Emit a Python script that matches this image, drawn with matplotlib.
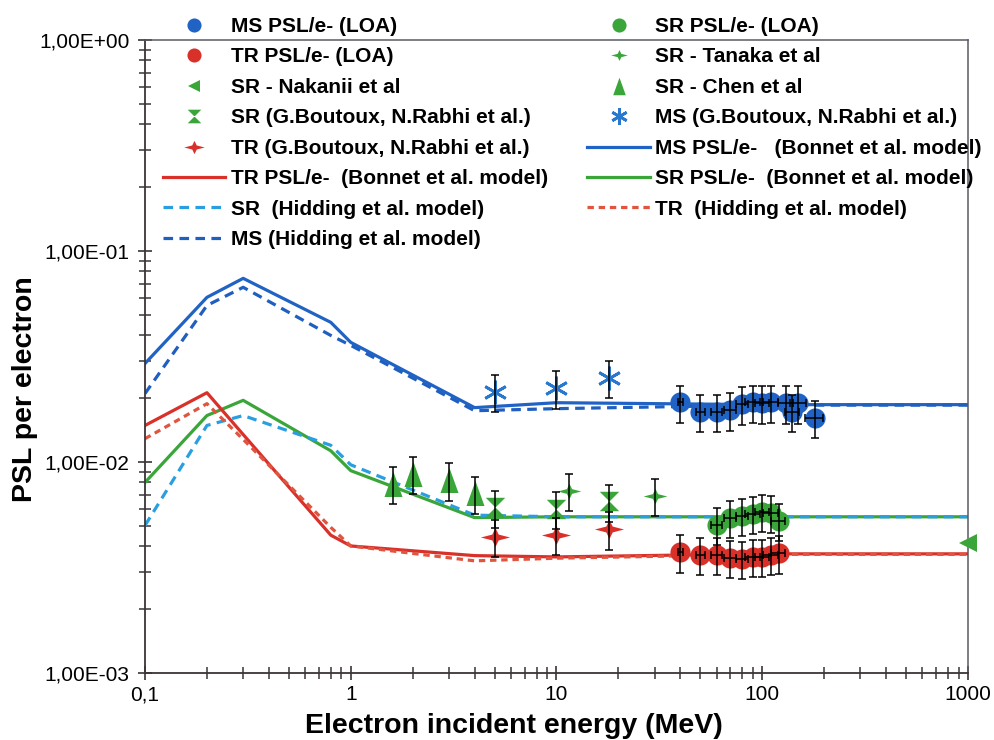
import numpy as np
import matplotlib
matplotlib.use('Agg')
import matplotlib.pyplot as plt
from matplotlib.path import Path
from matplotlib.ticker import LogLocator, FixedLocator, FuncFormatter, NullFormatter

plt.rcParams['font.family'] = ['Liberation Sans', 'DejaVu Sans']

# ---------------- data ----------------
E_model = [0.1, 0.2, 0.3, 0.8, 1, 4, 10, 100, 1000]
ms_bonnet = [0.0293, 0.0603, 0.0742, 0.0459, 0.0369, 0.0181, 0.0191, 0.0187, 0.0187]
ms_hidding = [0.0211, 0.0552, 0.0673, 0.0398, 0.0357, 0.0175, 0.0179, 0.0186, 0.0186]
sr_bonnet = [0.0080, 0.0166, 0.0196, 0.0113, 0.0091, 0.00545, 0.0055, 0.0055, 0.0055]
sr_hidding = [0.0050, 0.0149, 0.0166, 0.0120, 0.0097, 0.0056, 0.0055, 0.0055, 0.0055]
tr_bonnet = [0.0149, 0.0213, 0.0135, 0.0045, 0.0040, 0.0036, 0.00355, 0.00367, 0.00367]
tr_hidding = [0.0129, 0.0189, 0.0128, 0.0049, 0.0040, 0.0034, 0.0035, 0.00365, 0.00365]

E_ms_loa = [40, 50, 60, 70, 80, 90, 100, 110, 130, 140, 150, 180]
ms_loa = [0.0192, 0.0173, 0.0173, 0.0176, 0.0188, 0.0192, 0.0190, 0.0192, 0.0190, 0.0173, 0.0190, 0.0162]
ms_loa_xerr = [0.03, 0.05, 0.06, 0.07, 0.07, 0.08, 0.08, 0.08, 0.08, 0.08, 0.09, 0.10]

E_tr_loa = [40, 50, 60, 70, 80, 90, 100, 110, 120]
tr_loa = [0.00374, 0.00363, 0.00363, 0.00351, 0.00347, 0.00355, 0.00355, 0.00363, 0.00370]
tr_loa_xerr = [0.03, 0.05, 0.06, 0.07, 0.07, 0.08, 0.08, 0.08, 0.08]

E_sr_loa = [60, 70, 80, 90, 100, 110, 120]
sr_loa = [0.00503, 0.00543, 0.00555, 0.00567, 0.00580, 0.00574, 0.00525]
sr_loa_xerr = [0.06, 0.07, 0.07, 0.08, 0.08, 0.08, 0.08]

E_nakanii = [1000]
sr_nakanii = [0.00413]

E_tanaka = [11.5, 30]
sr_tanaka = [0.0073, 0.0069]

E_chen = [1.6, 2, 3, 4]
sr_chen = [0.0079, 0.0088, 0.0082, 0.0071]

E_boutoux = [5, 10, 18]
sr_boutoux = [0.0061, 0.0060, 0.0065]
tr_boutoux = [0.00441, 0.00451, 0.00481]
ms_boutoux = [0.0215, 0.0224, 0.0250]

yerr_frac = 0.20

x_ticks = [0.1, 1, 10, 100, 1000]
x_ticklabels = ['0,1', '1', '10', '100', '1000']
y_ticks = [1e-3, 1e-2, 1e-1, 1e0]
y_ticklabels = ['1,00E-03', '1,00E-02', '1,00E-01', '1,00E+00']

# ---------------- styles ----------------
C_MS = '#2163c4'
C_MS_D = '#1f5fbf'
C_MS_STAR = '#2878d0'
C_SR_H = '#2a9fe0'
C_SR = '#3aa63a'
C_TR = '#d9302a'
C_TR_H = '#e0553f'

hourglass = Path([(-1, 1), (1, 1), (-1, -1), (1, -1), (-1, 1)],
                 [Path.MOVETO, Path.LINETO, Path.LINETO, Path.LINETO, Path.CLOSEPOLY])
star4 = Path([(1, 0), (0.22, 0.2), (0, 0.65), (-0.22, 0.2), (-1, 0), (-0.22, -0.2),
              (0, -0.65), (0.22, -0.2), (1, 0)],
             [Path.MOVETO] + [Path.LINETO] * 7 + [Path.CLOSEPOLY])
tri_up = Path([(0, 1), (-0.72, -1), (0.72, -1), (0, 1)],
              [Path.MOVETO, Path.LINETO, Path.LINETO, Path.CLOSEPOLY])

fig = plt.figure(figsize=(9.95, 7.4), dpi=100)
ax = fig.add_axes([145 / 995, 1 - 673 / 740, (968 - 145) / 995, (673 - 40) / 740])

lw = 2.3


def err(x, y, xfrac=None, zo=5):
    y = np.asarray(y)
    x = np.asarray(x, dtype=float)
    xe = None if xfrac is None else x * np.asarray(xfrac)
    ax.errorbar(x, y, yerr=y * yerr_frac, xerr=xe, fmt='none', ecolor='black',
                elinewidth=1.1, capsize=3.2, capthick=1.1, zorder=zo)


# model lines
h_ms_b, = ax.plot(E_model, ms_bonnet, '-', color=C_MS, lw=lw, zorder=2,
                  label='MS PSL/e-   (Bonnet et al. model)')
h_ms_h, = ax.plot(E_model, ms_hidding, '--', color=C_MS_D, lw=lw, dashes=(3, 2), zorder=2,
                  label='MS (Hidding et al. model)')
h_sr_b, = ax.plot(E_model, sr_bonnet, '-', color=C_SR, lw=lw, zorder=2,
                  label='SR PSL/e-  (Bonnet et al. model)')
h_sr_h, = ax.plot(E_model, sr_hidding, '--', color=C_SR_H, lw=lw, dashes=(3, 2), zorder=2,
                  label='SR  (Hidding et al. model)')
h_tr_b, = ax.plot(E_model, tr_bonnet, '-', color=C_TR, lw=lw, zorder=2,
                  label='TR PSL/e-  (Bonnet et al. model)')
h_tr_h, = ax.plot(E_model, tr_hidding, '--', color=C_TR_H, lw=lw, dashes=(2, 1.5), zorder=2,
                  label='TR  (Hidding et al. model)')

# data points
h_ms_loa, = ax.plot(E_ms_loa, ms_loa, 'o', color=C_MS, ms=14.5, mew=0, ls='none', zorder=3,
                    label='MS PSL/e- (LOA)')
err(E_ms_loa, ms_loa, ms_loa_xerr)
h_tr_loa, = ax.plot(E_tr_loa, tr_loa, 'o', color=C_TR, ms=14.5, mew=0, ls='none', zorder=3,
                    label='TR PSL/e- (LOA)')
err(E_tr_loa, tr_loa, tr_loa_xerr)
h_sr_loa, = ax.plot(E_sr_loa, sr_loa, 'o', color=C_SR, ms=14.5, mew=0, ls='none', zorder=3,
                    label='SR PSL/e- (LOA)')
err(E_sr_loa, sr_loa, sr_loa_xerr)

h_nak, = ax.plot(E_nakanii, sr_nakanii, '<', color=C_SR, ms=13, mew=0, ls='none', zorder=3,
                 clip_on=False, label='SR - Nakanii et al')
h_tan, = ax.plot(E_tanaka, sr_tanaka, marker=star4, color=C_SR, ms=17, mew=0, ls='none',
                 zorder=3, label='SR - Tanaka et al')
err(E_tanaka, sr_tanaka)
h_chen, = ax.plot(E_chen, sr_chen, marker=tri_up, color=C_SR, ms=18, mew=0, ls='none',
                  zorder=3, label='SR - Chen et al')
err(E_chen, sr_chen)
h_srb, = ax.plot(E_boutoux, sr_boutoux, marker=hourglass, color=C_SR, ms=14, mew=0, ls='none',
                 zorder=3, label='SR (G.Boutoux, N.Rabhi et al.)')
err(E_boutoux, sr_boutoux)
h_trb, = ax.plot(E_boutoux, tr_boutoux, marker=star4, color=C_TR, ms=21, mew=0, ls='none',
                 zorder=3, label='TR (G.Boutoux, N.Rabhi et al.)')
err(E_boutoux, tr_boutoux)
h_msb, = ax.plot(E_boutoux, ms_boutoux, marker=(6, 2, 0), color=C_MS_STAR, ms=17, mew=2.0,
                 ls='none', zorder=3, label='MS (G.Boutoux, N.Rabhi et al.)')
err(E_boutoux, ms_boutoux)

# axes
ax.set_xscale('log')
ax.set_yscale('log')
ax.set_xlim(0.1, 1000)
ax.set_ylim(1e-3, 1)
ax.xaxis.set_major_locator(FixedLocator(x_ticks))
ax.xaxis.set_major_formatter(FuncFormatter(lambda v, p: x_ticklabels[x_ticks.index(v)] if v in x_ticks else ''))
ax.yaxis.set_major_locator(FixedLocator(y_ticks))
ax.yaxis.set_major_formatter(FuncFormatter(lambda v, p: y_ticklabels[y_ticks.index(v)] if v in y_ticks else ''))
ax.xaxis.set_minor_locator(LogLocator(base=10, subs=np.arange(2, 10)))
ax.yaxis.set_minor_locator(LogLocator(base=10, subs=np.arange(2, 10)))
ax.xaxis.set_minor_formatter(NullFormatter())
ax.yaxis.set_minor_formatter(NullFormatter())

tick_col = '#3b3436'
ax.tick_params(which='major', axis='both', direction='inout', length=10, width=1.2,
               color=tick_col, labelsize=15, pad=6, top=False, right=False)
ax.tick_params(which='major', axis='x', pad=4)
ax.tick_params(which='minor', axis='both', direction='inout', length=8, width=1.1,
               color=tick_col, top=False, right=False)
for s in ['left', 'bottom']:
    ax.spines[s].set_color(tick_col)
    ax.spines[s].set_linewidth(1.3)
for s in ['top', 'right']:
    ax.spines[s].set_color('#5a5a66')
    ax.spines[s].set_linewidth(1.1)

ax.set_xlabel('Electron incident energy (MeV)', fontsize=20.5, fontweight='bold')
ax.set_ylabel('PSL per electron', fontsize=20.5, fontweight='bold')
ax.xaxis.set_label_coords(0.448, -0.063)
ax.yaxis.set_label_coords(-0.130, 0.449)

handles = [h_ms_loa, h_tr_loa, h_nak, h_srb, h_trb, h_tr_b, h_sr_h, h_ms_h,
           h_sr_loa, h_tan, h_chen, h_msb, h_ms_b, h_sr_b, h_tr_h]
leg = fig.legend(handles=handles, labels=[h.get_label() for h in handles], ncol=2,
                 loc='upper left', bbox_to_anchor=(163 / 995, 1 - 17 / 740),
                 bbox_transform=fig.transFigure, frameon=False,
                 prop={'size': 15, 'weight': 'bold'}, handlelength=3.0,
                 handletextpad=0.25, columnspacing=1.9, labelspacing=0.55,
                 markerscale=0.7, borderpad=0, borderaxespad=0, numpoints=1)

fig.savefig('out.png', dpi=100, facecolor='white')
